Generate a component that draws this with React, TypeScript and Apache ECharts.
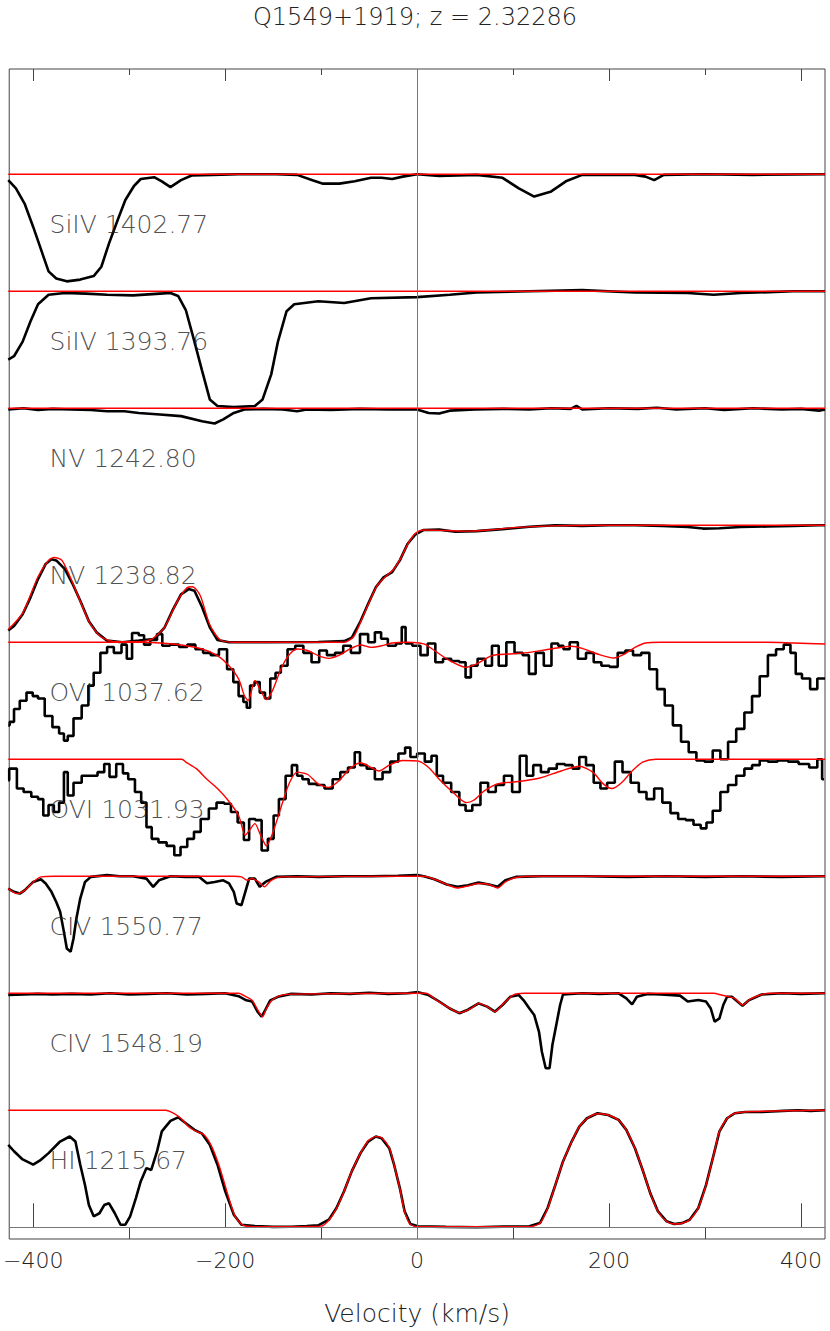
import React, { useEffect, useRef } from "react";
import * as echarts from "echarts";

const TITLE = "Q1549+1919; z = 2.32286";
const X_NAME = "Velocity (km/s)";
const MAJOR_TICKS = [-400, -200, 0, 200, 400];
const MINOR_TICKS = [-300, -100, 100, 300];

// panel labels, bottom (offset 0) to top (offset 8)
const PANEL_NAMES = [
  "HI 1215.67",
  "CIV 1548.19",
  "CIV 1550.77",
  "OVI 1031.93",
  "OVI 1037.62",
  "NV 1238.82",
  "NV 1242.80",
  "SiIV 1393.76",
  "SiIV 1402.77",
];

// normalised flux vs velocity (km/s)
const HI_OBS = [
  [-426, 0.705], [-420, 0.65], [-411, 0.58], [-400, 0.535], [-392, 0.577], [-384, 0.634], [-372, 0.733], [-362, 0.776], [-356, 0.733],
  [-351, 0.535], [-346, 0.36], [-342, 0.19], [-337, 0.094], [-331, 0.12], [-326, 0.19], [-321, 0.205], [-315, 0.12], [-309, 0.022],
  [-304, 0.022], [-299, 0.094], [-293, 0.25], [-288, 0.392], [-282, 0.506], [-277, 0.49], [-271, 0.648], [-266, 0.82], [-257, 0.91],
  [-249, 0.94], [-241, 0.89], [-232, 0.833], [-224, 0.8], [-216, 0.705], [-208, 0.535], [-200, 0.31], [-191, 0.108], [-183, 0.022],
  [-169, 0.011], [-150, 0.004], [-131, 0.005], [-115, 0.01], [-103, 0.017], [-92, 0.065], [-84, 0.165], [-76, 0.31], [-68, 0.48],
  [-59, 0.634], [-51, 0.733], [-43, 0.776], [-37, 0.762], [-29, 0.676], [-24, 0.535], [-18, 0.335], [-13, 0.136], [-7, 0.028],
  [1, 0.008], [30, 0.004], [62, 0.0], [90, 0.006], [117, 0.008], [128, 0.036], [136, 0.165], [144, 0.36], [152, 0.563], [161, 0.733],
  [169, 0.861], [177, 0.932], [188, 0.975], [199, 0.96], [210, 0.918], [218, 0.833], [227, 0.676], [235, 0.49], [243, 0.29],
  [251, 0.136], [260, 0.051], [268, 0.028], [276, 0.036], [284, 0.065], [293, 0.165], [301, 0.36], [309, 0.62], [315, 0.82],
  [323, 0.932], [331, 0.975], [342, 0.985], [359, 0.985], [370, 0.99], [381, 0.995], [397, 1.0], [410, 0.995], [425, 1.0],
];
const HI_FIT = [
  [-426, 1.0], [-262, 1.0], [-254, 0.975], [-246, 0.93], [-238, 0.86], [-230, 0.82], [-222, 0.79], [-214, 0.69], [-206, 0.52],
  [-198, 0.3], [-190, 0.1], [-182, 0.02], [-170, 0.005], [-100, 0.01], [-92, 0.06], [-84, 0.16], [-76, 0.31], [-68, 0.48],
  [-59, 0.634], [-51, 0.74], [-43, 0.775], [-37, 0.765], [-29, 0.68], [-24, 0.535], [-18, 0.33], [-13, 0.13], [-7, 0.025],
  [1, 0.005], [117, 0.005], [128, 0.035], [136, 0.16], [144, 0.36], [152, 0.56], [161, 0.73], [169, 0.86], [177, 0.93], [188, 0.97],
  [199, 0.96], [210, 0.915], [218, 0.83], [227, 0.675], [235, 0.49], [243, 0.29], [251, 0.135], [260, 0.05], [268, 0.028],
  [276, 0.035], [284, 0.065], [293, 0.165], [301, 0.36], [309, 0.62], [315, 0.82], [323, 0.93], [331, 0.975], [350, 0.99], [425, 1.0],
];

const CIV1548_OBS = [
  [-426, 0.985], [-410, 0.99], [-395, 0.995], [-380, 0.99], [-360, 0.995], [-340, 0.99], [-320, 1.0], [-300, 0.99], [-280, 0.995],
  [-260, 1.0], [-240, 0.99], [-220, 0.995], [-200, 1.0], [-186, 0.975], [-178, 0.94], [-172, 0.93], [-166, 0.84], [-162, 0.8],
  [-158, 0.86], [-153, 0.94], [-145, 0.97], [-131, 0.995], [-110, 0.99], [-90, 1.0], [-70, 0.995], [-50, 1.005], [-30, 0.995],
  [-10, 1.0], [1, 1.01], [12, 0.985], [23, 0.93], [34, 0.87], [44, 0.83], [53, 0.86], [64, 0.914], [73, 0.886], [81, 0.843],
  [89, 0.9], [97, 0.97], [106, 0.985], [111, 0.94], [117, 0.87], [122, 0.815], [127, 0.67], [130, 0.5], [134, 0.36], [138, 0.36],
  [141, 0.56], [145, 0.73], [149, 0.9], [152, 0.99], [172, 1.0], [190, 0.995], [210, 1.0], [218, 0.956], [224, 0.905], [229, 0.97],
  [240, 0.995], [254, 0.99], [274, 0.98], [282, 0.93], [293, 0.942], [301, 0.93], [306, 0.87], [310, 0.757], [315, 0.786],
  [319, 0.9], [323, 0.97], [328, 0.97], [336, 0.914], [339, 0.894], [346, 0.942], [359, 0.99], [380, 1.0], [400, 0.995], [425, 1.0],
];
const CIV1548_FIT = [
  [-426, 1.0], [-186, 1.0], [-178, 0.97], [-172, 0.942], [-165, 0.843], [-161, 0.8], [-157, 0.87], [-151, 0.942], [-143, 0.98],
  [-131, 0.993], [9, 1.0], [20, 0.942], [31, 0.886], [44, 0.834], [56, 0.87], [64, 0.914], [73, 0.886], [81, 0.843], [90, 0.914],
  [100, 0.985], [111, 1.0], [309, 1.0], [317, 0.985], [325, 0.97], [331, 0.957], [339, 0.9], [347, 0.95], [359, 0.99], [370, 1.0],
  [425, 1.0],
];

const CIV1550_OBS = [
  [-426, 0.895], [-420, 0.867], [-414, 0.852], [-409, 0.88], [-400, 0.952], [-392, 0.975], [-387, 0.938], [-381, 0.867],
  [-376, 0.78], [-372, 0.7], [-368, 0.525], [-365, 0.383], [-361, 0.355], [-358, 0.468], [-355, 0.64], [-351, 0.81], [-346, 0.952],
  [-340, 0.995], [-323, 1.01], [-310, 1.0], [-296, 1.0], [-282, 0.98], [-275, 0.91], [-269, 0.966], [-257, 1.0], [-241, 0.995],
  [-227, 0.995], [-219, 0.94], [-211, 0.952], [-202, 0.966], [-196, 0.94], [-191, 0.867], [-188, 0.767], [-183, 0.753],
  [-179, 0.867], [-175, 0.98], [-169, 0.98], [-164, 0.91], [-158, 0.952], [-147, 0.995], [-125, 1.0], [-103, 0.995], [-75, 1.0],
  [-48, 1.0], [-20, 1.005], [0, 1.01], [7, 1.0], [18, 0.975], [31, 0.93], [42, 0.91], [53, 0.923], [64, 0.946], [75, 0.93],
  [84, 0.91], [92, 0.966], [103, 0.995], [130, 1.0], [172, 1.0], [220, 0.995], [260, 1.0], [300, 0.995], [340, 1.0], [380, 0.995],
  [425, 1.0],
];
const CIV1550_FIT = [
  [-426, 0.895], [-417, 0.852], [-409, 0.88], [-400, 0.952], [-392, 0.995], [-378, 1.0], [-191, 1.0], [-183, 0.995], [-177, 0.966],
  [-172, 0.98], [-165, 0.952], [-159, 0.91], [-152, 0.966], [-141, 0.995], [7, 1.0], [18, 0.975], [29, 0.938], [42, 0.9],
  [53, 0.918], [64, 0.938], [75, 0.93], [84, 0.9], [92, 0.952], [103, 0.99], [125, 1.0], [425, 1.0],
];

const OVI1031_OBS = [
  [-426, 0.82], [-424, 0.92], [-420, 0.92], [-414, 0.75], [-406, 0.72], [-398, 0.68], [-392, 0.66], [-387, 0.52], [-381, 0.61],
  [-376, 0.55], [-370, 0.63], [-366, 0.89], [-362, 0.69], [-354, 0.8], [-345, 0.86], [-337, 0.86], [-329, 0.89], [-323, 0.96],
  [-318, 0.85], [-309, 0.96], [-304, 0.88], [-298, 0.83], [-290, 0.72], [-285, 0.63], [-279, 0.42], [-274, 0.32], [-265, 0.29],
  [-257, 0.26], [-249, 0.18], [-244, 0.25], [-235, 0.32], [-230, 0.38], [-221, 0.49], [-213, 0.58], [-205, 0.63], [-197, 0.62],
  [-191, 0.55], [-183, 0.46], [-178, 0.31], [-172, 0.49], [-165, 0.48], [-159, 0.22], [-152, 0.32], [-147, 0.52], [-141, 0.66],
  [-133, 0.86], [-128, 0.95], [-122, 0.86], [-117, 0.83], [-109, 0.79], [-101, 0.78], [-92, 0.75], [-84, 0.83], [-76, 0.89],
  [-68, 0.93], [-62, 1.06], [-57, 0.95], [-48, 0.92], [-40, 0.83], [-32, 0.89], [-24, 0.98], [-15, 1.05], [-10, 1.1], [-4, 1.02],
  [4, 1.05], [12, 0.98], [18, 1.03], [23, 0.86], [31, 0.8], [40, 0.72], [48, 0.61], [53, 0.56], [62, 0.61], [70, 0.8], [78, 0.72],
  [86, 0.78], [95, 0.86], [103, 0.72], [111, 1.03], [117, 0.86], [125, 0.95], [133, 0.89], [141, 0.92], [150, 0.96], [158, 0.95],
  [166, 0.92], [172, 1.02], [180, 0.95], [188, 0.8], [194, 0.75], [202, 0.8], [210, 0.98], [218, 0.89], [227, 0.8], [235, 0.72],
  [243, 0.66], [251, 0.75], [260, 0.63], [268, 0.54], [276, 0.49], [284, 0.48], [292, 0.44], [299, 0.41], [304, 0.46], [312, 0.56],
  [320, 0.72], [328, 0.78], [337, 0.86], [345, 0.92], [353, 0.95], [361, 0.99], [370, 0.98], [381, 0.99], [392, 0.98], [403, 0.96],
  [414, 0.93], [420, 1.0], [424, 0.83],
];
const OVI1031_FIT = [
  [-426, 1.0], [-245, 1.0], [-241, 0.976], [-230, 0.92], [-219, 0.83], [-208, 0.75], [-197, 0.65], [-186, 0.52], [-179, 0.35],
  [-175, 0.39], [-169, 0.45], [-163, 0.35], [-157, 0.26], [-150, 0.38], [-141, 0.61], [-133, 0.8], [-125, 0.89], [-114, 0.87],
  [-103, 0.79], [-92, 0.76], [-81, 0.82], [-70, 0.92], [-59, 0.97], [-48, 0.93], [-40, 0.9], [-29, 0.95], [-15, 0.99], [1, 0.985],
  [12, 0.93], [23, 0.83], [37, 0.72], [51, 0.63], [59, 0.65], [70, 0.73], [84, 0.79], [106, 0.81], [128, 0.84], [150, 0.9],
  [169, 0.94], [183, 0.89], [194, 0.79], [203, 0.75], [213, 0.8], [224, 0.9], [235, 0.975], [249, 1.0], [425, 1.0],
];

const OVI1037_OBS = [
  [-426, 0.29], [-423, 0.32], [-417, 0.43], [-411, 0.5], [-403, 0.57], [-398, 0.54], [-392, 0.52], [-384, 0.37], [-376, 0.275],
  [-370, 0.22], [-366, 0.16], [-362, 0.2], [-354, 0.35], [-345, 0.46], [-340, 0.63], [-334, 0.74], [-326, 0.91], [-320, 0.96],
  [-312, 0.91], [-304, 0.98], [-301, 0.86], [-293, 1.08], [-287, 1.06], [-282, 0.98], [-274, 1.02], [-268, 1.07], [-263, 0.97],
  [-252, 0.98], [-244, 0.96], [-235, 0.98], [-227, 0.94], [-219, 0.91], [-211, 0.89], [-202, 0.94], [-194, 0.77], [-189, 0.66],
  [-183, 0.54], [-179, 0.49], [-176, 0.44], [-172, 0.63], [-167, 0.66], [-161, 0.57], [-156, 0.52], [-150, 0.69], [-145, 0.74],
  [-139, 0.8], [-131, 0.94], [-123, 0.97], [-114, 0.91], [-106, 0.83], [-98, 0.93], [-90, 0.89], [-81, 0.91], [-73, 0.97],
  [-65, 0.91], [-54, 1.07], [-48, 1.0], [-40, 1.085], [-35, 1.03], [-26, 0.97], [-18, 0.99], [-14, 1.13], [-10, 0.99], [0, 0.97],
  [7, 0.89], [15, 0.99], [23, 0.83], [31, 0.86], [40, 0.84], [48, 0.83], [53, 0.7], [59, 0.8], [67, 0.86], [75, 0.8], [81, 0.97],
  [89, 0.8], [97, 1.0], [106, 0.91], [114, 0.89], [119, 0.73], [128, 0.91], [136, 0.8], [144, 0.99], [150, 0.97], [155, 0.94],
  [163, 1.0], [172, 0.86], [180, 0.91], [188, 0.83], [196, 0.8], [205, 0.79], [213, 0.91], [221, 0.93], [229, 0.89], [238, 0.91],
  [246, 0.77], [254, 0.6], [262, 0.46], [271, 0.29], [279, 0.15], [287, 0.06], [295, -0.01], [304, -0.02], [312, 0.075], [320, 0.0],
  [328, 0.15], [337, 0.26], [345, 0.4], [353, 0.54], [361, 0.71], [370, 0.89], [378, 0.94], [386, 0.98], [392, 0.91], [397, 0.73],
  [405, 0.69], [414, 0.6], [420, 0.69], [425, 0.69],
];
const OVI1037_FIT = [
  [-426, 1.0], [-285, 1.0], [-268, 0.994], [-246, 0.977], [-224, 0.943], [-208, 0.886], [-196, 0.8], [-186, 0.687], [-180, 0.545],
  [-176, 0.502], [-169, 0.673], [-163, 0.587], [-157, 0.51], [-150, 0.6], [-142, 0.77], [-134, 0.886], [-125, 0.943], [-114, 0.93],
  [-103, 0.886], [-92, 0.863], [-81, 0.89], [-70, 0.943], [-59, 0.977], [-48, 0.957], [-37, 0.97], [-26, 0.994], [-10, 1.0],
  [7, 0.986], [18, 0.93], [34, 0.843], [51, 0.786], [62, 0.815], [78, 0.886], [95, 0.9], [117, 0.914], [139, 0.943], [161, 0.966],
  [172, 0.948], [188, 0.9], [205, 0.866], [216, 0.9], [227, 0.957], [238, 0.994], [254, 1.0], [364, 1.0], [392, 0.994], [425, 0.986],
];

const NV1238_OBS = [
  [-426, 0.1], [-420, 0.14], [-411, 0.24], [-403, 0.38], [-395, 0.54], [-387, 0.67], [-381, 0.71], [-376, 0.7], [-367, 0.625],
  [-359, 0.5], [-351, 0.355], [-342, 0.18], [-334, 0.085], [-323, 0.014], [-307, 0.0], [-290, 0.014], [-274, 0.028], [-263, 0.128],
  [-255, 0.27], [-246, 0.41], [-238, 0.455], [-232, 0.44], [-224, 0.3], [-216, 0.128], [-208, 0.02], [-196, 0.0], [-158, 0.0],
  [-103, 0.003], [-76, 0.01], [-68, 0.04], [-59, 0.18], [-51, 0.33], [-43, 0.47], [-35, 0.555], [-26, 0.6], [-18, 0.7], [-10, 0.84],
  [-2, 0.92], [7, 0.96], [23, 0.963], [40, 0.945], [62, 0.95], [89, 0.967], [117, 0.987], [144, 1.0], [172, 0.995], [200, 1.0],
  [227, 1.0], [255, 0.995], [282, 0.985], [298, 0.972], [315, 0.975], [337, 0.985], [365, 0.99], [392, 0.995], [419, 1.0], [425, 1.0],
];
const NV1238_FIT = [
  [-426, 0.11], [-411, 0.25], [-395, 0.56], [-384, 0.7], [-378, 0.725], [-370, 0.7], [-359, 0.51], [-342, 0.18], [-330, 0.05],
  [-315, 0.005], [-290, 0.005], [-276, 0.03], [-263, 0.13], [-250, 0.35], [-240, 0.465], [-234, 0.475], [-226, 0.4], [-216, 0.15],
  [-205, 0.02], [-190, 0.0], [-76, 0.0], [-66, 0.05], [-58, 0.19], [-50, 0.34], [-42, 0.48], [-33, 0.56], [-25, 0.62], [-17, 0.72],
  [-9, 0.85], [-2, 0.93], [6, 0.96], [30, 0.955], [50, 0.95], [75, 0.96], [100, 0.98], [140, 0.995], [200, 1.0], [300, 1.0],
  [425, 1.0],
];

const NV1242_OBS = [
  [-426, 0.99], [-410, 1.0], [-395, 0.985], [-380, 0.995], [-360, 0.99], [-340, 0.985], [-323, 0.975], [-305, 0.975], [-290, 0.96],
  [-268, 0.947], [-246, 0.933], [-224, 0.89], [-211, 0.87], [-202, 0.905], [-191, 0.96], [-180, 0.99], [-160, 0.995], [-140, 0.99],
  [-125, 0.975], [-115, 0.99], [-90, 0.985], [-60, 0.995], [-30, 0.99], [0, 0.99], [12, 0.96], [23, 0.955], [34, 0.98], [60, 0.99],
  [90, 0.995], [117, 0.99], [140, 1.0], [160, 0.995], [166, 1.02], [172, 0.99], [200, 1.0], [230, 0.995], [250, 1.005], [270, 0.99],
  [300, 1.0], [320, 0.985], [350, 1.0], [380, 0.99], [400, 0.995], [419, 0.98], [425, 0.99],
];
const NV1242_FIT = [[-426, 1.0], [425, 1.0]];

const SIIV1393_OBS = [
  [-426, 0.417], [-420, 0.445], [-411, 0.57], [-403, 0.74], [-395, 0.89], [-384, 0.97], [-367, 0.985], [-345, 0.98], [-323, 0.97],
  [-296, 0.965], [-268, 0.98], [-257, 0.985], [-249, 0.96], [-241, 0.84], [-233, 0.6], [-224, 0.32], [-216, 0.076], [-208, 0.02],
  [-191, 0.01], [-169, 0.02], [-161, 0.076], [-152, 0.29], [-145, 0.57], [-136, 0.83], [-128, 0.89], [-103, 0.915], [-76, 0.9],
  [-48, 0.94], [0, 0.95], [34, 0.97], [62, 0.99], [117, 1.0], [172, 1.01], [227, 0.99], [282, 0.985], [309, 0.97], [337, 0.985],
  [392, 1.0], [425, 1.0],
];
const SIIV1393_FIT = [[-426, 1.0], [425, 1.0]];

const SIIV1402_OBS = [
  [-426, 0.95], [-418, 0.88], [-409, 0.75], [-400, 0.55], [-392, 0.36], [-384, 0.17], [-376, 0.11], [-365, 0.085], [-351, 0.1],
  [-337, 0.13], [-329, 0.21], [-321, 0.41], [-312, 0.61], [-304, 0.78], [-295, 0.9], [-288, 0.96], [-274, 0.975], [-266, 0.94],
  [-257, 0.89], [-246, 0.95], [-235, 0.99], [-213, 0.995], [-186, 1.0], [-147, 1.0], [-125, 0.995], [-109, 0.95], [-98, 0.92],
  [-81, 0.92], [-65, 0.94], [-48, 0.97], [-37, 0.97], [-26, 0.96], [-15, 0.98], [0, 1.0], [23, 0.985], [62, 0.995], [89, 0.97],
  [106, 0.88], [122, 0.81], [139, 0.85], [155, 0.94], [172, 0.995], [227, 0.995], [238, 0.98], [247, 0.95], [257, 0.995],
  [300, 1.0], [350, 0.995], [425, 1.0],
];
const SIIV1402_FIT = [[-426, 1.0], [425, 1.0]];

const OBSERVED = [HI_OBS, CIV1548_OBS, CIV1550_OBS, OVI1031_OBS, OVI1037_OBS, NV1238_OBS, NV1242_OBS, SIIV1393_OBS, SIIV1402_OBS];
const FITS = [HI_FIT, CIV1548_FIT, CIV1550_FIT, OVI1031_FIT, OVI1037_FIT, NV1238_FIT, NV1242_FIT, SIIV1393_FIT, SIIV1402_FIT];
const STEPPED = [false, false, false, true, true, false, false, false, false];

const FONT = "'DejaVu Sans', sans-serif";
const TEXT_COLOR = "#222";
const FRAME_COLOR = "#444";
const LABEL_V = -383;
const LABEL_DY = 0.57;

function fmtTick(v: number) {
  return v < 0 ? "\u2212" + Math.abs(v) : String(v);
}

function xAxisBase(position: string, ticks: number[], len: number, labels: boolean) {
  return {
    type: "value",
    position,
    min: -425,
    max: 425,
    axisLine: { show: false },
    splitLine: { show: false },
    axisTick: {
      show: true,
      inside: true,
      length: len,
      customValues: ticks,
      lineStyle: { color: FRAME_COLOR, width: 1 },
    },
    axisLabel: labels
      ? {
          show: true,
          customValues: ticks,
          formatter: fmtTick,
          fontSize: 22,
          fontWeight: 200,
          fontFamily: FONT,
          color: TEXT_COLOR,
          margin: 10,
        }
      : { show: false },
  };
}

export default function App() {
  const ref = useRef<HTMLDivElement>(null);
  useEffect(() => {
    if (!ref.current) return;
    const chart = echarts.init(ref.current, undefined, { renderer: "svg" });
    const series: any[] = [];
    OBSERVED.forEach((obs, i) => {
      series.push({
        type: "line",
        name: PANEL_NAMES[i] + " data",
        xAxisIndex: 0,
        data: obs.map(([v, f]) => [v, f + i]),
        showSymbol: false,
        step: STEPPED[i] ? "middle" : false,
        lineStyle: { color: "#000", width: 2.6 },
        z: 2,
        ...(i === 0
          ? {
              markLine: {
                silent: true,
                symbol: ["none", "none"],
                label: { show: false },
                lineStyle: { color: "#777", width: 1, type: "solid" },
                data: [{ xAxis: 0 }, { yAxis: 0 }],
              },
            }
          : {}),
      });
    });
    FITS.forEach((fit, i) => {
      series.push({
        type: "line",
        name: PANEL_NAMES[i] + " fit",
        xAxisIndex: 0,
        data: fit.map(([v, f]) => [v, f + i]),
        showSymbol: false,
        smooth: 0.25,
        lineStyle: { color: "#ff0000", width: 1.4 },
        z: 3,
      });
    });
    series.push({
      type: "scatter",
      xAxisIndex: 0,
      symbolSize: 0,
      data: PANEL_NAMES.map((name, i) => ({ name, value: [LABEL_V, i + LABEL_DY] })),
      label: {
        show: true,
        position: "right",
        distance: 0,
        formatter: "{b}",
        fontSize: 25,
        fontWeight: 200,
        fontFamily: FONT,
        color: TEXT_COLOR,
      },
      z: 4,
    });

    chart.setOption({
      animation: false,
      backgroundColor: "#fff",
      title: {
        text: TITLE,
        left: "center",
        top: 0,
        textStyle: { fontSize: 24, fontWeight: 200, fontFamily: FONT, color: TEXT_COLOR },
      },
      grid: {
        left: 8,
        right: 5,
        top: 69,
        bottom: 90,
        show: true,
        borderColor: FRAME_COLOR,
        borderWidth: 1,
        backgroundColor: "transparent",
      },
      xAxis: [
        {
          ...xAxisBase("bottom", MAJOR_TICKS, 24, true),
          name: X_NAME,
          nameLocation: "middle",
          nameGap: 62,
          nameTextStyle: { fontSize: 25, fontWeight: 200, fontFamily: FONT, color: TEXT_COLOR },
        },
        xAxisBase("bottom", MINOR_TICKS, 12, false),
        xAxisBase("top", MAJOR_TICKS, 12, false),
        xAxisBase("top", MINOR_TICKS, 6, false),
      ],
      yAxis: {
        type: "value",
        min: -0.1,
        max: 9.9,
        axisLine: { show: false },
        axisTick: { show: false },
        axisLabel: { show: false },
        splitLine: { show: false },
      },
      series,
    });
    return () => chart.dispose();
  }, []);
  return <div ref={ref} style={{ position: "fixed", left: 0, top: 0, width: 830, height: 1331 }} />;
}
